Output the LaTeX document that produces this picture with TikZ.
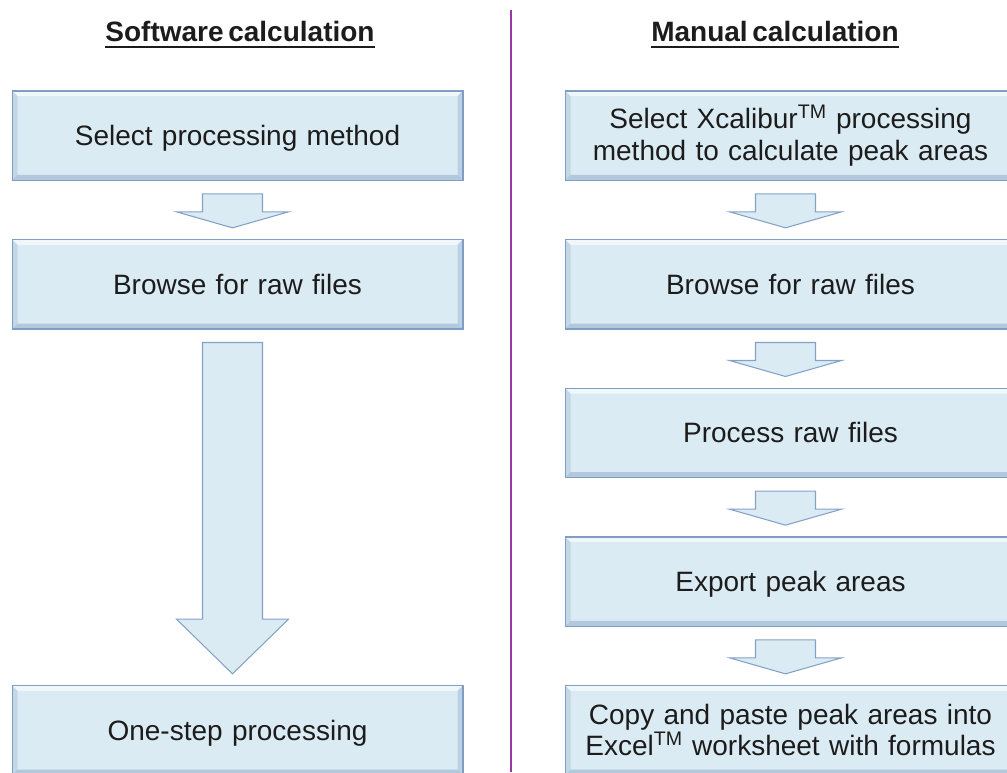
\documentclass[tikz,border=0pt]{standalone}
\usepackage{fontspec}
\setmainfont{Liberation Sans}[WordSpace=0.6]
\usepackage{xcolor}
\usepackage{tikz}
\usetikzlibrary{arrows.meta,positioning,calc}

\definecolor{boxfill}{RGB}{219,235,243}
\definecolor{boxedge}{RGB}{128,158,196}
\definecolor{arrowedge}{RGB}{132,162,200}
\definecolor{divline}{RGB}{150,58,165}
\definecolor{textdark}{RGB}{28,28,28}

% thick underline for the column titles
\newcommand{\headrule}[1]{\setbox0\hbox{#1}\leavevmode\rlap{\raisebox{-5pt}{\rule{\wd0}{1.5pt}}}\box0}

% block arrow between two boxes: from, to, head length
\newcommand{\flowarrow}[3]{%
  \draw[arrowbox] let \p1=($(#1.south)+(-5,13)$), \p2=($(#2.north)+(-5,-11)$) in
    (\x1-22.5pt,\y1) -- (\x1+22.5pt,\y1) -- (\x1+22.5pt,\y2+#3) -- (\x1+42pt,\y2+#3)
    -- (\x1,\y2) -- (\x1-42pt,\y2+#3) -- (\x1-22.5pt,\y2+#3) -- cycle;}

\begin{document}
\begin{tikzpicture}[
  x=0.75pt, y=-0.75pt,
  every node/.style={align=center, text=textdark},
  heading/.style={font=\fontsize{21}{25}\selectfont\bfseries},
  stepbox/.style={draw=boxedge, line width=1pt, fill=boxfill,
    minimum width=338pt, minimum height=67pt, text width=330pt,
    font=\fontsize{21}{23.5}\selectfont,
    path picture={
      \fill[white, opacity=.6] (path picture bounding box.north west) -- (path picture bounding box.north east)
        -- ([shift={(-4pt,-4pt)}]path picture bounding box.north east) -- ([shift={(4pt,-4pt)}]path picture bounding box.north west) -- cycle;
      \fill[boxedge, opacity=.25] (path picture bounding box.north west) -- ([shift={(4pt,-4pt)}]path picture bounding box.north west)
        -- ([shift={(4pt,4pt)}]path picture bounding box.south west) -- (path picture bounding box.south west) -- cycle;
      \fill[boxedge, opacity=.35] (path picture bounding box.north east) -- ([shift={(-4pt,-4pt)}]path picture bounding box.north east)
        -- ([shift={(-4pt,4pt)}]path picture bounding box.south east) -- (path picture bounding box.south east) -- cycle;
      \fill[boxedge, opacity=.45] (path picture bounding box.south west) -- (path picture bounding box.south east)
        -- ([shift={(-4pt,4pt)}]path picture bounding box.south east) -- ([shift={(4pt,4pt)}]path picture bounding box.south west) -- cycle;
    }},
  oneline/.style={stepbox, text depth=0pt},
  arrowbox/.style={draw=arrowedge, line width=0.8pt, fill=boxfill, line join=miter},
  node distance=43.5pt]
  \useasboundingbox (0,0) rectangle (1007,772);

  % two columns, split by a line
  \draw[divline, line width=1.8pt] (511,10) -- (511,772);
  \node[heading] (swhead) at (240,35) {\headrule{Software calculation}};
  \node[heading] (mchead) at (775,35) {\headrule{Manual calculation}};

  % manual steps
  \node[stepbox] (mc1) at (790.5,135.5) {Select Xcalibur\textsuperscript{TM} processing\\method to calculate peak areas};
  \node[oneline, below=of mc1] (mc2) {Browse for raw files};
  \node[oneline, below=of mc2] (mc3) {Process raw files};
  \node[oneline, below=of mc3] (mc4) {Export peak areas};
  \node[stepbox, below=of mc4] (mc5) {Copy and paste peak areas into\\Excel\textsuperscript{TM} worksheet with formulas};

  % software steps
  \node[oneline] (sw1) at (237.5,135.5) {Select processing method};
  \node[oneline, below=of sw1] (sw2) {Browse for raw files};
  \node[oneline] (sw3) at (sw1 |- mc5) {One-step processing};

  \flowarrow{sw1}{sw2}{12pt}
  \flowarrow{sw2}{sw3}{41pt}
  \flowarrow{mc1}{mc2}{12pt}
  \flowarrow{mc2}{mc3}{12pt}
  \flowarrow{mc3}{mc4}{12pt}
  \flowarrow{mc4}{mc5}{12pt}
\end{tikzpicture}
\end{document}
